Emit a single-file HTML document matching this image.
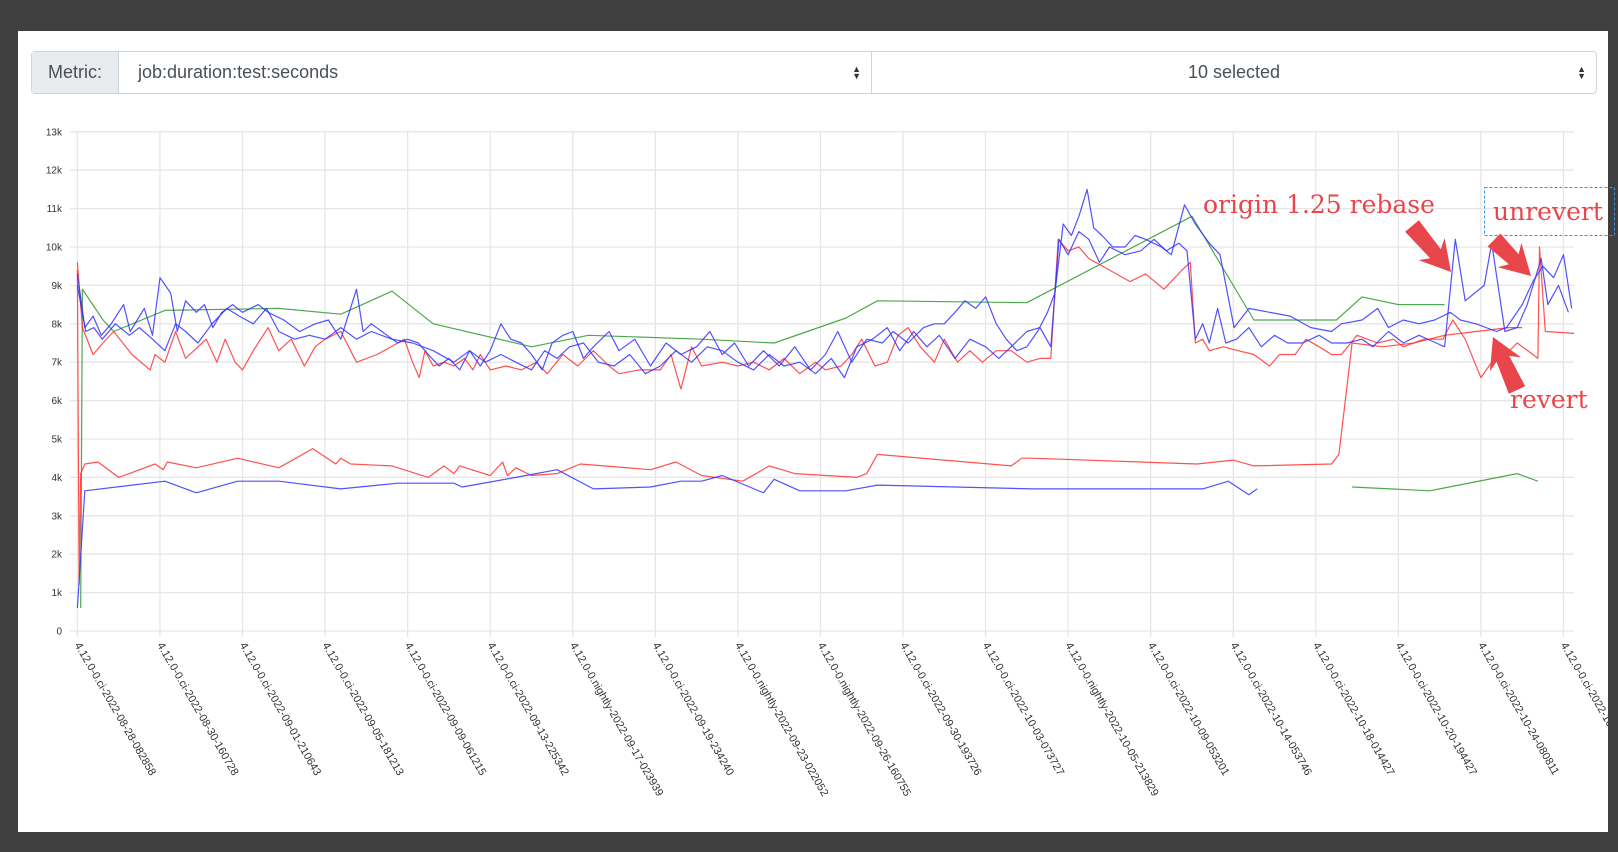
<!DOCTYPE html>
<html><head><meta charset="utf-8"><style>
html,body{margin:0;padding:0;width:1618px;height:852px;background:#3f3f3f;overflow:hidden;font-family:"Liberation Sans",sans-serif}
#panel{position:absolute;left:18px;top:31px;width:1590px;height:801px;background:#fff}
.grp{position:absolute;left:31px;top:51px;width:1566px;height:43px;border:1px solid #ced4da;border-radius:4px;box-sizing:border-box;display:flex;font-size:18px;color:#495057}
.addon{width:86px;background:#e9ecef;border-right:1px solid #ced4da;display:flex;align-items:center;justify-content:center}
.sel{position:relative;display:flex;align-items:center}
.s1{width:753px;padding-left:19px;box-sizing:border-box;border-right:1px solid #ced4da}
.s2{flex:1;justify-content:center}
.caret{position:absolute;right:10px;top:14px;font-size:9px;line-height:7px;color:#333}
svg{position:absolute;left:0;top:0}
</style></head><body>
<div id="panel"></div>
<div class="grp">
 <div class="addon">Metric:</div>
 <div class="sel s1">job:duration:test:seconds<span class="caret">▲<br>▼</span></div>
 <div class="sel s2">10 selected<span class="caret">▲<br>▼</span></div>
</div>
<svg id="chart" width="1618" height="852">
<defs><clipPath id="pc"><rect x="18" y="31" width="1590" height="801"/></clipPath></defs>
<g id="grid"></g><g id="series"></g><g id="xl" clip-path="url(#pc)"></g><g id="ann"></g>
</svg>
<script>
const tickLabels=["4.12.0-0.ci-2022-08-28-082858","4.12.0-0.ci-2022-08-30-160728","4.12.0-0.ci-2022-09-01-210643","4.12.0-0.ci-2022-09-05-181213","4.12.0-0.ci-2022-09-09-061215","4.12.0-0.ci-2022-09-13-225342","4.12.0-0.nightly-2022-09-17-023939","4.12.0-0.ci-2022-09-19-234240","4.12.0-0.nightly-2022-09-23-022052","4.12.0-0.nightly-2022-09-26-160755","4.12.0-0.ci-2022-09-30-193726","4.12.0-0.ci-2022-10-03-073727","4.12.0-0.nightly-2022-10-05-213829","4.12.0-0.ci-2022-10-09-053201","4.12.0-0.ci-2022-10-14-053746","4.12.0-0.ci-2022-10-18-014427","4.12.0-0.ci-2022-10-20-194427","4.12.0-0.ci-2022-10-24-080811","4.12.0-0.ci-2022-10-27-000000"];
const yTicks=[0,1,2,3,4,5,6,7,8,9,10,11,12,13];
const blueARun=[0,.9,1.9,2.9,4.1,5.6,6.4,8.1,9.1,10,11.3,12.1,13.1,14.4,15.4,16.4,17.5,18.8,20,21.9,23.1,25,26.9,28.8,30.4,31.9,33.8,34.6,35.6,37.5,38.8,40,41.3,42.5,43.8,45,46.3,47.5,48.8,50,51.3,52.5,53.8,55,56.3,57.5,58.8,60,61.3,62.5,64.4,65.6,67.5,69.4,71.3,73.1,75,76.6,78.1,79.6,81.3,83.1,85,86.9,88.8,90.6,92.1,93.8,95.6,97.5,98.8,100.6,102.5,103.8,105,106.3,107.5,108.8,110,111.3,112.5,113.8,115,116.3,117.5,118.4,119.4,120.4,121.3,122.3,123.1,124.1,125.4,126.9,128.1,129.4,131.3,132.5,134.1,135.4,137.1,138.4,140.1,141.9,144.4,146.9,149.4,151.9,153.1,155.6,157.5,158.8,160.6,162.5,164.4,166.3,167.5,169.4,171.9,173.1,175,176.3,177.5,178.8,180,181];
const blueAVal=[9.3,7.9,8.2,7.7,8.0,8.5,7.8,8.4,7.7,9.2,8.8,7.8,8.6,8.3,8.5,7.9,8.3,8.5,8.3,8.5,8.3,8.1,7.8,8.0,8.1,7.6,8.9,7.8,8.0,7.7,7.5,7.6,7.5,7.2,6.9,7.1,6.8,7.3,6.9,7.3,8.0,7.6,7.5,7.2,6.8,7.5,7.7,7.8,7.1,7.4,7.8,7.3,7.6,6.9,7.5,7.2,7.4,7.8,7.2,7.5,6.9,7.3,6.9,7.4,6.8,7.2,7.8,7.0,7.6,7.5,7.8,7.5,7.9,8.0,8.0,8.3,8.6,8.4,8.7,8.0,7.6,7.3,7.4,7.8,8.3,8.8,10.6,10.3,10.8,11.5,10.5,10.3,10.0,10.0,10.3,10.2,10.0,9.8,11.1,10.6,10.1,9.8,7.9,8.4,8.3,8.2,7.9,7.8,8.0,8.1,8.4,7.9,8.1,8.0,8.1,8.3,8.1,8.0,7.8,7.9,8.5,9.1,9.5,9.2,9.8,8.4];
const blueBRun=[0,1,2,3,4.6,6.3,7.5,9.1,10.6,11.9,13.1,14.6,16.3,18.1,19.6,21.3,22.9,24.4,26.3,28.1,30,31.9,33.8,35.6,38.1,40.6,43.1,45.6,47.5,49.4,51.3,53.1,55,56.6,58.1,59.6,61.3,63.1,65,66.9,68.8,70.6,72.5,74.4,76.3,78.1,80,81.9,83.8,85.6,87.5,89.4,91.3,92.9,94.4,96.3,98.1,99.6,101.3,102.9,104.4,106.3,108.1,110,111.6,113.1,115,116.6,117.9,118.9,120,121.3,122.5,123.8,125,126.9,128.8,130.4,131.9,133.4,134.4,135.4,136.3,137.1,138.1,139.1,140.4,141.9,143.4,145,146.6,148.4,150.4,151.9,153.8,155.6,156.9,158.8,160.6,162.5,164.6,165.6,166.9,168.1,170.4,171.3,172.9,174.4,175.6,177.3,178.1,179.4,180.6];
const blueBVal=[9.0,7.8,7.9,7.6,8.0,7.7,7.9,7.6,7.3,8.0,7.8,7.5,8.0,8.4,8.2,8.0,8.4,7.8,7.6,7.7,7.6,7.9,7.6,7.8,7.6,7.5,7.3,7.0,7.3,7.0,7.2,7.0,6.8,7.3,7.1,7.4,7.5,7.0,6.9,7.2,6.7,6.9,7.3,7.0,7.4,7.3,7.0,6.8,7.2,6.9,7.0,6.7,7.1,6.6,7.4,7.6,7.9,7.3,7.8,7.4,7.7,7.1,7.6,7.4,7.1,7.4,7.8,7.9,7.4,10.2,9.8,10.4,10.2,9.6,10.0,9.8,9.9,10.2,9.9,10.1,9.9,7.6,8.0,7.5,8.4,7.5,7.6,7.9,7.4,7.7,7.5,7.5,7.7,7.5,7.5,7.6,7.4,7.8,7.5,7.7,7.5,7.4,10.2,8.6,9.0,10.1,7.8,7.9,8.5,9.7,8.5,9.0,8.3];
const redARun=[0,.6,1.9,3.1,4.4,6.6,8.8,9.4,10.6,11.9,13.1,14.6,15.6,16.9,17.9,19.1,20,21.3,23.1,24.4,25.9,27.5,28.8,30,31.9,33.8,36.3,38.8,39.6,40.6,41.4,42.1,43.1,44.4,45.6,46.9,47.9,48.8,50,51.9,53.8,55.6,56.9,58.8,60.6,62.5,64.4,65.6,68.1,70.6,71.9,73.1,74.4,75.6,78.1,80,81.9,83.8,85.6,87.5,89.4,90.6,92.5,93.8,95,96.6,98.1,99.4,100.6,102.1,103.8,105,106.6,108.1,109.6,111.3,113.1,115,116.6,117.9,118.8,120,121.3,122.5,125,127.5,129.4,131.6,133.8,134.8,135.4,136.3,137.1,138.8,140.6,142.5,144.4,145.6,147.5,148.8,150.4,151.9,153.1,155,157.5,159.4,160.6,163.1,165.4,166.6,168.1,170,171.3,172.5,174.4,176.3,176.9,177.1,177.8,181.3];
const redAVal=[9.6,7.9,7.2,7.5,7.8,7.2,6.8,7.2,7.0,7.8,7.1,7.4,7.6,7.0,7.6,7.0,6.8,7.3,7.9,7.3,7.6,6.9,7.4,7.6,7.8,7.0,7.2,7.5,7.6,7.0,6.6,7.3,6.9,7.0,6.9,7.1,6.8,7.2,6.8,6.9,6.8,7.0,6.7,7.2,6.9,7.3,6.9,6.7,6.8,6.8,7.2,6.3,7.4,6.9,7.0,6.9,7.0,6.8,7.1,6.7,7.0,6.8,6.9,7.2,7.6,6.9,7.0,7.7,7.9,7.4,7.0,7.6,7.0,7.3,7.0,7.3,7.3,7.0,7.1,7.1,10.2,9.9,10.0,9.7,9.4,9.1,9.3,8.9,9.4,9.6,7.5,7.6,7.3,7.4,7.3,7.2,6.9,7.2,7.2,7.6,7.4,7.2,7.2,7.7,7.5,7.6,7.4,7.6,7.6,8.1,7.6,6.6,7.0,7.1,7.5,7.2,7.1,10.0,7.8,7.75];
const redBRun=[0,.2,.4,.9,2.5,5,9.4,10.4,10.9,14.4,19.4,24.4,28.5,31.3,31.9,33.1,38.1,42.5,44.4,45.6,46.3,50,51.5,52.1,53.1,55,58.1,60.9,69.4,72.5,75.6,80.6,83.8,86.9,94.4,95.6,96.9,113.1,114.4,115.6,135.6,140,142.5,151.9,152.8,154.4,158.1,161.9,165.6,169.4,173.4,175];
const redBVal=[9.4,1.2,4.1,4.35,4.4,4.0,4.35,4.2,4.4,4.25,4.5,4.25,4.75,4.35,4.5,4.35,4.3,4.0,4.3,4.1,4.3,4.05,4.4,4.05,4.25,4.05,4.1,4.35,4.2,4.4,4.05,3.9,4.3,4.1,4.0,4.1,4.6,4.3,4.5,4.5,4.35,4.45,4.3,4.35,4.6,7.5,7.4,7.5,7.7,7.8,7.9,7.9];
const blueCRun=[0,.9,10.6,14.4,19.4,24.4,31.9,38.8,45.6,46.6,53.1,58.1,62.5,69.4,73.1,75.6,78.1,83.1,84.4,87.5,93.1,96.9,115.6,136.3,139.4,141.9,142.9];
const blueCVal=[0.6,3.65,3.9,3.6,3.9,3.9,3.7,3.85,3.85,3.75,4.0,4.2,3.7,3.75,3.9,3.9,4.05,3.6,3.95,3.65,3.65,3.8,3.7,3.7,3.9,3.55,3.7];
const greenARun=[0.4,0.6,3.1,4.4,10.6,24.4,31.9,38.1,43.1,55,61.9,75.6,84.4,93.1,96.9,115,135,142.5,152.5,155.6,160,165.6];
const greenAVal=[0.6,8.9,8.1,7.8,8.35,8.4,8.25,8.85,8.0,7.4,7.7,7.6,7.5,8.15,8.6,8.55,10.8,8.1,8.1,8.7,8.5,8.5];
const greenBRun=[154.4,163.8,165,174.4,176.9];
const greenBVal=[3.75,3.65,3.7,4.1,3.9];

const NS="http://www.w3.org/2000/svg";
const xs=r=>77.4+r*8.256, ys=v=>631-v*38.4;
function mk(tag,attrs,parent){const e=document.createElementNS(NS,tag);for(const k in attrs)e.setAttribute(k,attrs[k]);parent.appendChild(e);return e;}
const grid=document.getElementById('grid'),ser=document.getElementById('series'),xl=document.getElementById('xl'),ann=document.getElementById('ann');
yTicks.forEach(v=>{
 const l=mk('line',{x1:70,x2:1574,y1:ys(v),y2:ys(v),stroke:'#e6e6e6','stroke-width':1.3},grid);
 
 
 const t=mk('text',{x:62,y:ys(v)+3.5,'text-anchor':'end','font-size':10,fill:'#333','font-family':'Liberation Sans, sans-serif'},grid);
 t.textContent=v===0?'0':v+'k';
 
 
});
tickLabels.forEach((s,i)=>{
 const x=xs(i*10);
 const l=mk('line',{x1:x,x2:x,y1:132,y2:637,stroke:'#e6e6e6','stroke-width':1.3},grid);
 
 
 const t=mk('text',{x:x-3,y:645,transform:`rotate(60 ${x-3} 645)`,'font-size':11,fill:'#333','font-family':'Liberation Sans, sans-serif'},xl);
 t.textContent=s;
 
 
});
function line(runs,vals,color,name){
 const d=runs.map((r,i)=>(i?'L':'M')+xs(r).toFixed(1)+','+ys(vals[i]).toFixed(1)).join('');
 const p=mk('path',{d,fill:'none',stroke:color,'stroke-width':1.2,'stroke-opacity':0.85,'stroke-linejoin':'round'},ser);
 
 
}
line(greenARun,greenAVal,'#2e9a2e','series-green-upper');
line(greenBRun,greenBVal,'#2e9a2e','series-green-lower');
line(redBRun,redBVal,'#ff3333','series-red-lower');
line(blueCRun,blueCVal,'#3333ff','series-blue-lower');
line(redARun,redAVal,'#ff3333','series-red-upper');
line(blueBRun,blueBVal,'#3333ff','series-blue-b');
line(blueARun,blueAVal,'#3333ff','series-blue-a');

function arrow(x1,y1,x2,y2,name){
 const dx=x2-x1,dy=y2-y1,L=Math.hypot(dx,dy),ux=dx/L,uy=dy/L,px=-uy,py=ux;
 const P=(a,w)=>[x2-ux*a+px*w,y2-uy*a+py*w];
 const pts=[P(0,0),P(30,17),P(24,7),P(L,9),P(L,-9),P(24,-7),P(30,-17)];
 const g=mk('polygon',{points:pts.map(p=>p.map(n=>n.toFixed(1)).join(',')).join(' '),fill:'#e8464a'},ann);
 
 
}
arrow(1412,226,1451,272,'rebase-arrow');
arrow(1494,240,1531,276,'unrevert-arrow');
arrow(1517,390,1493,337,'revert-arrow');
function label(x,y,s,name){
 const t=mk('text',{x,y,'font-size':25,fill:'#e8464a','font-family':'DejaVu Serif, serif'},ann);
 t.textContent=s;
 
 
}
label(1203,213,'origin 1.25 rebase','annotation-rebase');
label(1493,220,'unrevert','annotation-unrevert');
label(1510,408,'revert','annotation-revert');
const b=mk('rect',{x:1484.5,y:187.5,width:130,height:48,fill:'none',stroke:'#3d8fe0','stroke-dasharray':'3,2','stroke-width':1},ann);


</script>
</body></html>
